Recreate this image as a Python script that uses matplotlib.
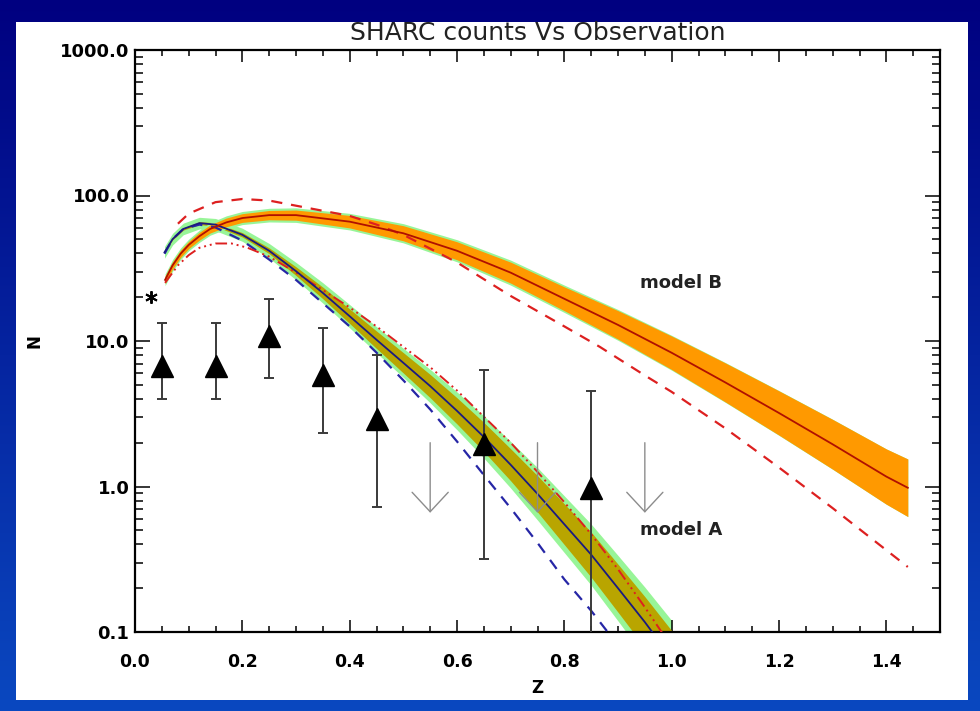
import numpy as np
import matplotlib.pyplot as plt
from matplotlib.colors import LinearSegmentedColormap
from matplotlib.patches import Rectangle
from matplotlib.ticker import MultipleLocator, LogLocator, NullFormatter

# observed counts (triangles with error bars)
z_obs = [0.05, 0.15, 0.25, 0.35, 0.45, 0.65, 0.85]
n_obs = [6.7, 6.7, 10.8, 5.8, 2.9, 1.95, 0.98]
n_hi = [13.2, 13.2, 19.4, 12.2, 8.0, 6.3, 4.5]
n_lo = [4.0, 4.0, 5.6, 2.35, 0.72, 0.32, 0.05]

# upper limits (downward arrows)
z_lim = [0.55, 0.75, 0.95]
n_lim = [2.0, 2.0, 2.0]
n_lim_tip = [0.66, 0.66, 0.66]

# local point (asterisk)
z_loc = [0.03]
n_loc = [20.0]

# model A: central curve and band half widths (dex)
za = [0.055, 0.07, 0.09, 0.12, 0.15, 0.2, 0.25, 0.3, 0.35, 0.4, 0.45, 0.5,
      0.55, 0.6, 0.65, 0.7, 0.75, 0.8, 0.85, 0.9, 0.95, 1.0]
na = [40.7, 50.1, 58.9, 64.6, 63.1, 53.7, 41.7, 30.2, 21.4, 14.8, 10.2, 7.08,
      4.90, 3.31, 2.19, 1.41, 0.89, 0.55, 0.34, 0.20, 0.117, 0.066]
a_green_hw = [0.04, 0.04, 0.04, 0.04, 0.042, 0.045, 0.05, 0.06, 0.07, 0.08, 0.09, 0.10,
              0.115, 0.13, 0.145, 0.16, 0.18, 0.195, 0.21, 0.225, 0.24, 0.26]
a_olive_hw = [0.005, 0.005, 0.008, 0.01, 0.012, 0.015, 0.02, 0.03, 0.04, 0.05, 0.06, 0.07,
              0.08, 0.09, 0.10, 0.11, 0.125, 0.14, 0.155, 0.165, 0.175, 0.19]

# model B: central curve and band half widths (dex)
zb = [0.056, 0.07, 0.085, 0.1, 0.12, 0.14, 0.17, 0.2, 0.25, 0.3, 0.4, 0.5,
      0.6, 0.7, 0.8, 0.9, 1.0, 1.1, 1.2, 1.3, 1.4, 1.44]
nb = [26.3, 33.1, 39.8, 45.7, 52.5, 58.9, 65.3, 70.0, 73.3, 73.3, 66.1, 55.0,
      41.7, 29.5, 19.5, 12.9, 8.3, 5.19, 3.2, 1.95, 1.17, 0.98]
b_orange_hw = [0.025, 0.025, 0.025, 0.025, 0.027, 0.028, 0.03, 0.03, 0.032, 0.035, 0.043, 0.052,
               0.062, 0.072, 0.082, 0.098, 0.115, 0.134, 0.152, 0.171, 0.19, 0.198]
b_green_hw = [0.04, 0.04, 0.04, 0.04, 0.042, 0.043, 0.045, 0.045, 0.047, 0.05, 0.057, 0.066,
              0.076, 0.086, 0.094, 0.106, 0.12, 0.137, 0.154, 0.172, 0.19, 0.198]

# red dashed curve
zd = [0.08, 0.1, 0.15, 0.2, 0.25, 0.3, 0.4, 0.45, 0.5, 0.6, 0.7, 0.8, 0.866,
      0.95, 1.0, 1.1, 1.2, 1.3, 1.44]
nd = [64.0, 75.0, 90.0, 94.6, 92.3, 85.1, 72.4, 63.1, 53.7, 34.7, 20.4, 12.6, 9.12,
      5.8, 4.47, 2.51, 1.35, 0.71, 0.28]

# blue dashed curve
zbd = [0.055, 0.07, 0.09, 0.12, 0.15, 0.2, 0.25, 0.3, 0.35, 0.4, 0.45, 0.5,
       0.55, 0.6, 0.65, 0.7, 0.75, 0.8, 0.85, 0.9]
nbd = [39.8, 50.1, 58.9, 63.1, 60.3, 49.0, 36.3, 26.3, 18.2, 12.6, 8.32, 5.37,
       3.39, 2.04, 1.20, 0.71, 0.41, 0.23, 0.14, 0.081]

# red dash-dot-dot curve
zr = [0.056, 0.08, 0.1, 0.12, 0.15, 0.18, 0.21, 0.25, 0.3, 0.35, 0.4, 0.45,
      0.5, 0.55, 0.6, 0.65, 0.7, 0.75, 0.8, 0.85, 0.9, 0.95, 1.0]
nr = [25.1, 33.1, 38.9, 43.7, 46.8, 46.8, 43.7, 38.0, 29.5, 22.4, 17.0, 12.6,
      9.12, 6.61, 4.57, 3.02, 2.0, 1.26, 0.78, 0.47, 0.27, 0.148, 0.079]

x_ticks = [0.0, 0.2, 0.4, 0.6, 0.8, 1.0, 1.2, 1.4]
x_labels = ['0.0', '0.2', '0.4', '0.6', '0.8', '1.0', '1.2', '1.4']
y_ticks = [0.1, 1, 10, 100, 1000]
y_labels = ['0.1', '1.0', '10.0', '100.0', '1000.0']

plt.rcParams['font.family'] = ['DejaVu Sans']

fig = plt.figure(figsize=(9.8, 7.11), dpi=100)

# blue gradient backdrop and white panel
bg = fig.add_axes([0, 0, 1, 1], zorder=-2)
cmap = LinearSegmentedColormap.from_list('bluebg', ['#000080', '#0a48c0'])
grad = np.linspace(0, 1, 256)[:, None] * np.ones((1, 16))
bg.imshow(grad, cmap=cmap, aspect='auto', extent=[0, 1, 0, 1], origin='upper')
bg.set_axis_off()
fig.patches.append(Rectangle((16 / 980, 1 - 700 / 711), 952 / 980, 678 / 711,
                             transform=fig.transFigure, facecolor='white',
                             edgecolor='none', zorder=-1))

ax = fig.add_axes([135 / 980, 1 - 632 / 711, 805 / 980, 582 / 711])
ax.set_facecolor('none')
ax.set_yscale('log')

za_a, na_a = np.array(za), np.array(na)
zb_a, nb_a = np.array(zb), np.array(nb)

# bands
ax.fill_between(za_a, na_a / 10 ** np.array(a_green_hw), na_a * 10 ** np.array(a_green_hw),
                color='#98f598', lw=0, zorder=1)
ax.fill_between(za_a, na_a / 10 ** np.array(a_olive_hw), na_a * 10 ** np.array(a_olive_hw),
                color='#b9a500', lw=0, zorder=2)
ax.fill_between(zb_a, nb_a / 10 ** np.array(b_green_hw), nb_a * 10 ** np.array(b_green_hw),
                color='#98f598', lw=0, zorder=3)
ax.fill_between(zb_a, nb_a / 10 ** np.array(b_orange_hw), nb_a * 10 ** np.array(b_orange_hw),
                color='#ff9900', lw=0, zorder=4)

# model curves
ax.plot(zbd, nbd, color='#2626a6', lw=1.6, dashes=(5, 4), zorder=5)
ax.plot(zd, nd, color='#dd2020', lw=1.6, dashes=(5, 4), zorder=5)
ax.plot(zr, nr, color='#dd2020', lw=1.4, dashes=(6, 2, 1, 2, 1, 2, 1, 2), zorder=5)
ax.plot(za, na, color='#1a1a80', lw=1.3, zorder=6)
ax.plot(zb, nb, color='#b01000', lw=1.3, zorder=6)

# data
n_obs_a = np.array(n_obs)
ax.errorbar(z_obs, n_obs, yerr=[n_obs_a - np.array(n_lo), np.array(n_hi) - n_obs_a],
            fmt='none', ecolor='#3a3a3a', elinewidth=1.4, capsize=3.5, capthick=1.4, zorder=7)
ax.plot(z_obs, n_obs, linestyle='none', marker='^', markersize=16, color='black', zorder=8)
ax.plot(z_loc, n_loc, linestyle='none', marker=(6, 2, 0), markersize=9,
        markeredgewidth=1.4, color='black', zorder=8)
for z, top, tip in zip(z_lim, n_lim, n_lim_tip):
    ax.annotate('', xy=(z, tip), xytext=(z, top),
                arrowprops=dict(arrowstyle='->,head_length=1.4,head_width=1.3',
                                color='#8c8c8c', lw=1.0, shrinkA=0, shrinkB=0),
                zorder=8)

ax.text(0.941, 25.0, 'model B', fontsize=13, fontweight='bold', va='center', ha='left', color='#222222')
ax.text(0.941, 0.50, 'model A', fontsize=13, fontweight='bold', va='center', ha='left', color='#222222')

ax.set_xlim(0, 1.5)
ax.set_ylim(0.1, 1000)
ax.set_xticks(x_ticks)
ax.set_xticklabels(x_labels)
ax.xaxis.set_minor_locator(MultipleLocator(0.05))
ax.set_yticks(y_ticks)
ax.set_yticklabels(y_labels)
ax.yaxis.set_minor_locator(LogLocator(base=10, subs=np.arange(2, 10)))
ax.yaxis.set_minor_formatter(NullFormatter())

for s in ax.spines.values():
    s.set_linewidth(1.6)
ax.tick_params(axis='x', which='major', direction='in', length=8.6, width=1.1,
               top=True, pad=15, labelsize=12.5)
ax.tick_params(axis='x', which='minor', direction='in', length=4.3, width=1.1, top=True)
ax.tick_params(axis='y', which='major', direction='in', length=10.8, width=1.1,
               right=True, pad=4, labelsize=13)
ax.tick_params(axis='y', which='minor', direction='in', length=5.8, width=1.1, right=True)
for lab in ax.get_xticklabels() + ax.get_yticklabels():
    lab.set_fontweight('bold')

ax.set_xlabel('Z', fontsize=12, fontweight='bold', labelpad=6)
ax.set_ylabel('N', fontsize=12, fontweight='bold', labelpad=12)

fig.text(537.5 / 980, 1 - 33 / 711, 'SHARC counts Vs Observation', fontsize=18,
         ha='center', va='center', color='#222222')

fig.savefig('out.png', dpi=100)
